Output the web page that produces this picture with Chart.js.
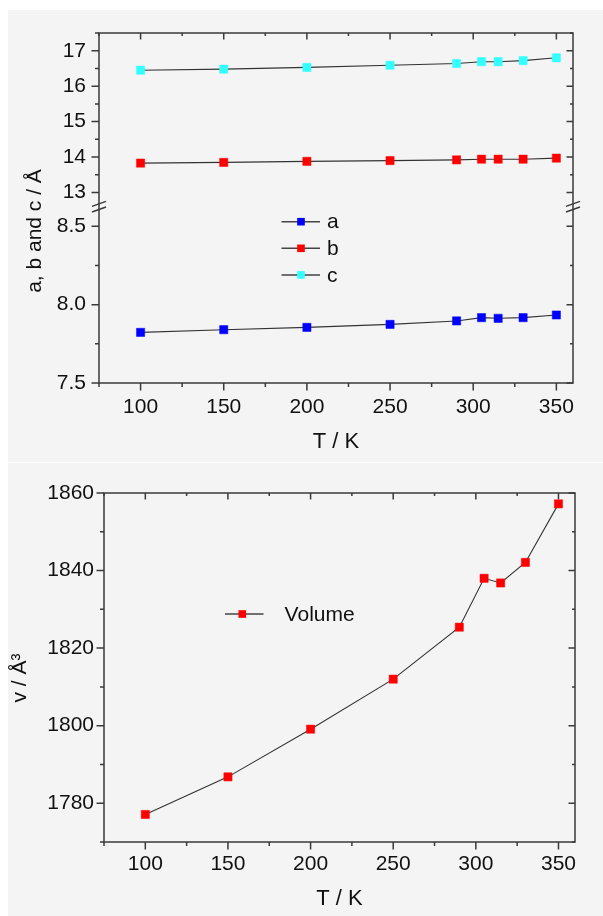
<!DOCTYPE html>
<html>
<head>
<meta charset="utf-8">
<script src="https://cdn.jsdelivr.net/npm/chart.js@4/dist/chart.umd.min.js"></script>
<style>
  body { margin: 0; background: #fff; width: 603px; height: 916px; position: relative; overflow: hidden; }
  .panel { position: absolute; left: 8px; width: 595px; background: #f4f4f4; }
  canvas { position: absolute; left: 0; }
</style>
</head>
<body>
<div class="panel" style="top:10px;height:452px"></div>
<div class="panel" style="top:463px;height:453px"></div>
<canvas id="cellChart" width="603" height="462" style="top:0"></canvas>
<canvas id="volumeChart" width="603" height="454" style="top:462px"></canvas>
<script>
// Data
const temps = [100, 150, 200, 250, 290, 305, 315, 330, 350];
const aValues = [7.823, 7.840, 7.855, 7.874, 7.896, 7.917, 7.913, 7.917, 7.934];
const bValues = [13.83, 13.85, 13.88, 13.90, 13.92, 13.94, 13.94, 13.94, 13.97];
const cValues = [16.45, 16.48, 16.53, 16.59, 16.64, 16.69, 16.69, 16.72, 16.80];
const volumeValues = [1777.1, 1786.8, 1799.1, 1812.0, 1825.4, 1838.0, 1836.8, 1842.1, 1857.2];

// Tick labels
const tempTicks = [100, 150, 200, 250, 300, 350];
const upperTicks = [13, 14, 15, 16, 17];
const lowerTicks = [7.5, 8.0, 8.5];
const volumeTicks = [1780, 1800, 1820, 1840, 1860];

const minorSteps = { x: 25, yU: 0.5, yL: 0.25, y: 10 };

Chart.defaults.font.family = "'Liberation Sans', Arial, sans-serif";
Chart.defaults.font.size = 21;
Chart.defaults.color = '#111';

const points = (ys) => temps.map((t, i) => ({ x: t, y: ys[i] }));

function series(label, ys, color, axis) {
  return {
    label: label,
    data: points(ys),
    yAxisID: axis,
    borderColor: '#333',
    borderWidth: 1.1,
    pointStyle: 'rect',
    pointRadius: 5.8,
    pointHoverRadius: 5.8,
    pointBackgroundColor: color,
    pointBorderColor: color,
    pointBorderWidth: 0.5,
    tension: 0
  };
}

// Frame, in/out tick marks and axis break
const frameTicks = {
  id: 'frameTicks',
  beforeDatasetsDraw(chart) {
    const { ctx, chartArea: area, scales } = chart;
    ctx.save();
    ctx.strokeStyle = '#3a3a3a';
    ctx.lineWidth = 1.5;
    ctx.strokeRect(area.left, area.top, area.right - area.left, area.bottom - area.top);
    Object.values(scales).forEach(scale => {
      const majors = scale.ticks.map(t => t.value);
      const step = minorSteps[scale.id];
      const start = Math.ceil(scale.min / step - 1e-9);
      const minors = [];
      for (let i = start; i * step <= scale.max + 1e-9; i++) {
        const v = i * step;
        if (!majors.some(m => Math.abs(m - v) < 1e-6)) minors.push(v);
      }
      const mark = (v, len) => {
        const p = scale.getPixelForValue(v);
        ctx.beginPath();
        if (scale.isHorizontal()) {
          ctx.moveTo(p, area.bottom); ctx.lineTo(p, area.bottom + len);
          ctx.moveTo(p, area.top); ctx.lineTo(p, area.top + len - 1);
        } else {
          ctx.moveTo(area.left, p); ctx.lineTo(area.left - len, p);
          ctx.moveTo(area.right, p); ctx.lineTo(area.right - len + 1, p);
        }
        ctx.stroke();
      };
      majors.forEach(v => mark(v, 7.5));
      minors.forEach(v => mark(v, 4));
    });
    if (scales.yU) {
      const yb = scales.yU.bottom;
      [area.left, area.right].forEach(x => {
        [-2.8, 2.8].forEach(d => {
          ctx.beginPath();
          ctx.moveTo(x - 7, yb + d + 2.5);
          ctx.lineTo(x + 7, yb + d - 2.5);
          ctx.stroke();
        });
      });
    }
    ctx.restore();
  }
};

// Legend placed inside the plot, built from the datasets
const inlineLegend = {
  id: 'inlineLegend',
  afterDraw(chart, args, opts) {
    const { ctx } = chart;
    ctx.save();
    ctx.font = "21px 'Liberation Sans', Arial, sans-serif";
    ctx.textBaseline = 'middle';
    chart.data.datasets.forEach((ds, i) => {
      const y = opts.y + i * opts.rowGap;
      ctx.strokeStyle = '#444';
      ctx.lineWidth = 1.5;
      ctx.beginPath();
      ctx.moveTo(opts.lineFrom, y);
      ctx.lineTo(opts.lineTo, y);
      ctx.stroke();
      ctx.fillStyle = ds.pointBackgroundColor;
      ctx.fillRect(opts.mark - 3.8, y - 3.8, 7.6, 7.6);
      ctx.fillStyle = '#111';
      ctx.fillText(ds.label, opts.textX, y + 1);
    });
    ctx.restore();
  }
};

// Rotated y axis title
const sideTitle = {
  id: 'sideTitle',
  afterDraw(chart, args, opts) {
    const { ctx } = chart;
    ctx.save();
    ctx.translate(opts.x, opts.y);
    ctx.rotate(-Math.PI / 2);
    ctx.font = "21px 'Liberation Sans', Arial, sans-serif";
    ctx.fillStyle = '#111';
    ctx.textAlign = 'center';
    ctx.textBaseline = 'middle';
    ctx.fillText(opts.text, 0, 0);
    ctx.restore();
  }
};

const hidden = { display: false, drawTicks: false };

function xScale(height, pad, titlePad) {
  return {
    type: 'linear', position: 'bottom', min: 75, max: 360,
    grid: hidden, border: { display: false },
    afterBuildTicks: s => { s.ticks = tempTicks.map(v => ({ value: v })); },
    afterFit: s => { s.height = height; },
    ticks: { padding: pad, autoSkip: false, maxRotation: 0 },
    title: { display: true, text: 'T / K', font: { size: 22 }, padding: { top: 0, bottom: titlePad } }
  };
}

// Lattice parameters chart (broken y axis)
new Chart(document.getElementById('cellChart'), {
  type: 'line',
  data: {
    datasets: [
      series('a', aValues, '#0000ff', 'yL'),
      series('b', bValues, '#ff0000', 'yU'),
      series('c', cValues, '#33ffff', 'yU')
    ]
  },
  options: {
    responsive: false,
    animation: false,
    layout: { padding: { left: 0, top: 33, right: 30, bottom: 0 } },
    scales: {
      x: xScale(79, 12, 7),
      yL: {
        type: 'linear', position: 'left', stack: 'cell', stackWeight: 176.3,
        min: 7.5, max: 8.625,
        grid: hidden, border: { display: false },
        afterBuildTicks: s => { s.ticks = lowerTicks.map(v => ({ value: v })); },
        afterFit: s => { s.width = 99; },
        ticks: { padding: 13, autoSkip: false, callback: v => v.toFixed(1) }
      },
      yU: {
        type: 'linear', position: 'left', stack: 'cell', stackWeight: 173.7,
        min: 12.6, max: 17.5,
        grid: hidden, border: { display: false },
        afterBuildTicks: s => { s.ticks = upperTicks.map(v => ({ value: v })); },
        afterFit: s => { s.width = 99; },
        ticks: { padding: 13, autoSkip: false, callback: v => String(v) }
      }
    },
    plugins: {
      legend: { display: false },
      tooltip: { enabled: false },
      inlineLegend: { y: 221.7, rowGap: 26.6, lineFrom: 281.5, lineTo: 320, mark: 301, textX: 327 },
      sideTitle: { text: 'a, b and c / Å', x: 35, y: 231 }
    }
  },
  plugins: [frameTicks, inlineLegend, sideTitle]
});

// Volume chart
new Chart(document.getElementById('volumeChart'), {
  type: 'line',
  data: {
    datasets: [series('Volume', volumeValues, '#ff0000', 'y')]
  },
  options: {
    responsive: false,
    animation: false,
    layout: { padding: { left: 0, top: 31, right: 28, bottom: 0 } },
    scales: {
      x: xScale(74, 10, 4),
      y: {
        type: 'linear', position: 'left', min: 1770, max: 1860,
        grid: hidden, border: { display: false },
        afterBuildTicks: s => { s.ticks = volumeTicks.map(v => ({ value: v })); },
        afterFit: s => { s.width = 104; },
        ticks: { padding: 10, autoSkip: false, callback: v => String(v) }
      }
    },
    plugins: {
      legend: { display: false },
      tooltip: { enabled: false },
      inlineLegend: { y: 152, rowGap: 0, lineFrom: 225, lineTo: 263.5, mark: 242.3, textX: 284.6 },
      sideTitle: { text: 'v / Å³', x: 20.5, y: 216 }
    }
  },
  plugins: [frameTicks, inlineLegend, sideTitle]
});
</script>
</body>
</html>
